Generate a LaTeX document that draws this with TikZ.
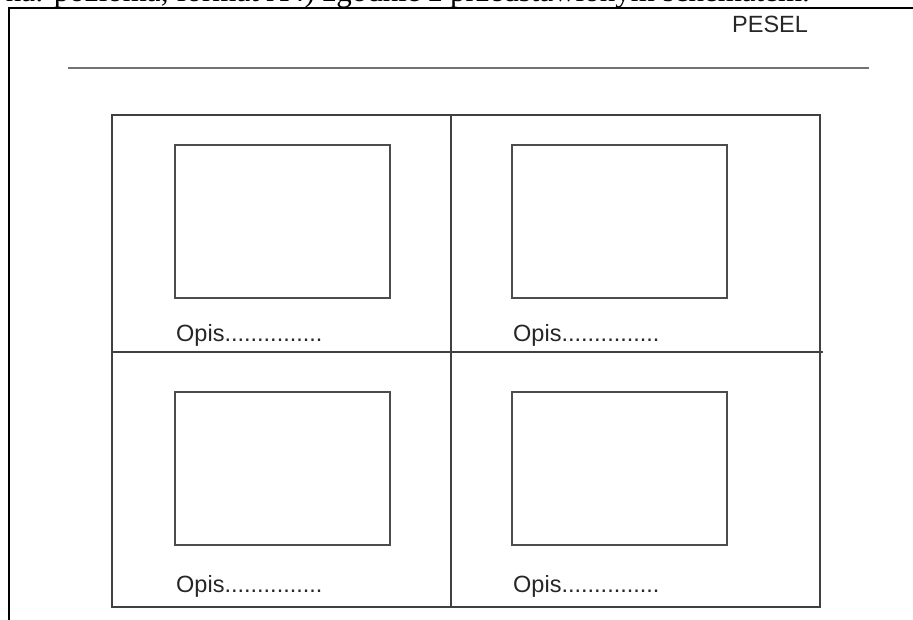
\documentclass[tikz,border=0pt]{standalone}
\usepackage{fontspec}
\setmainfont{Liberation Serif}
\newfontfamily\arialf{Liberation Sans}
\begin{document}
\begin{tikzpicture}[x=1pt,y=-1pt,
  frameline/.style={line width=1.6pt, draw=black},
  gridline/.style={line width=1.2pt, draw=black!75},
  rule/.style={line width=1.3pt, draw=black!55},
  photo/.style={draw=black!70, line width=1.2pt, minimum width=215pt, minimum height=153pt, inner sep=0pt, outer sep=0pt, anchor=north west},
  caption/.style={font=\arialf\fontsize{23.5}{28}\selectfont, inner sep=0pt, anchor=base west, text=black!85}]
\useasboundingbox (0,0) rectangle (913,619);
\clip (0,0) rectangle (913,619);
% cut-off heading
\node[font=\fontsize{31}{36}\selectfont, anchor=base east, inner sep=0pt] (head) at (810,1) {na: pozioma, format A4) zgodnie z przedstawionym schematem.};
% page frame
\coordinate (fb) at (9,625);
\coordinate (ft) at (9,8);
\coordinate (fr) at (920,8);
\draw[frameline] (fb) -- (ft) -- (fr);
% PESEL and rule
\node[caption] (pesel) at (732,32) {PESEL};
\coordinate (ra) at (68,68);
\coordinate (rb) at (869,68);
\draw[rule] (ra) -- (rb);
% grid
\coordinate (gnw) at (112,115);
\coordinate (gse) at (820,607);
\coordinate (vt) at (451,115);
\coordinate (vb) at (451,607);
\coordinate (hl) at (112,352);
\coordinate (hr) at (823,352);
\draw[gridline] (gnw) rectangle (gse);
\draw[gridline] (vt) -- (vb);
\draw[gridline] (hl) -- (hr);
% photo boxes
\node[photo] (p1) at (175,145) {};
\node[photo] (p2) at (512,145) {};
\node[photo] (p3) at (175,392) {};
\node[photo] (p4) at (512,392) {};
% captions
\node[caption] (o1) at (176,341) {Opis...............};
\node[caption] (o2) at (513,341) {Opis...............};
\node[caption] (o3) at (176,592) {Opis...............};
\node[caption] (o4) at (513,592) {Opis...............};
\end{tikzpicture}
\end{document}
